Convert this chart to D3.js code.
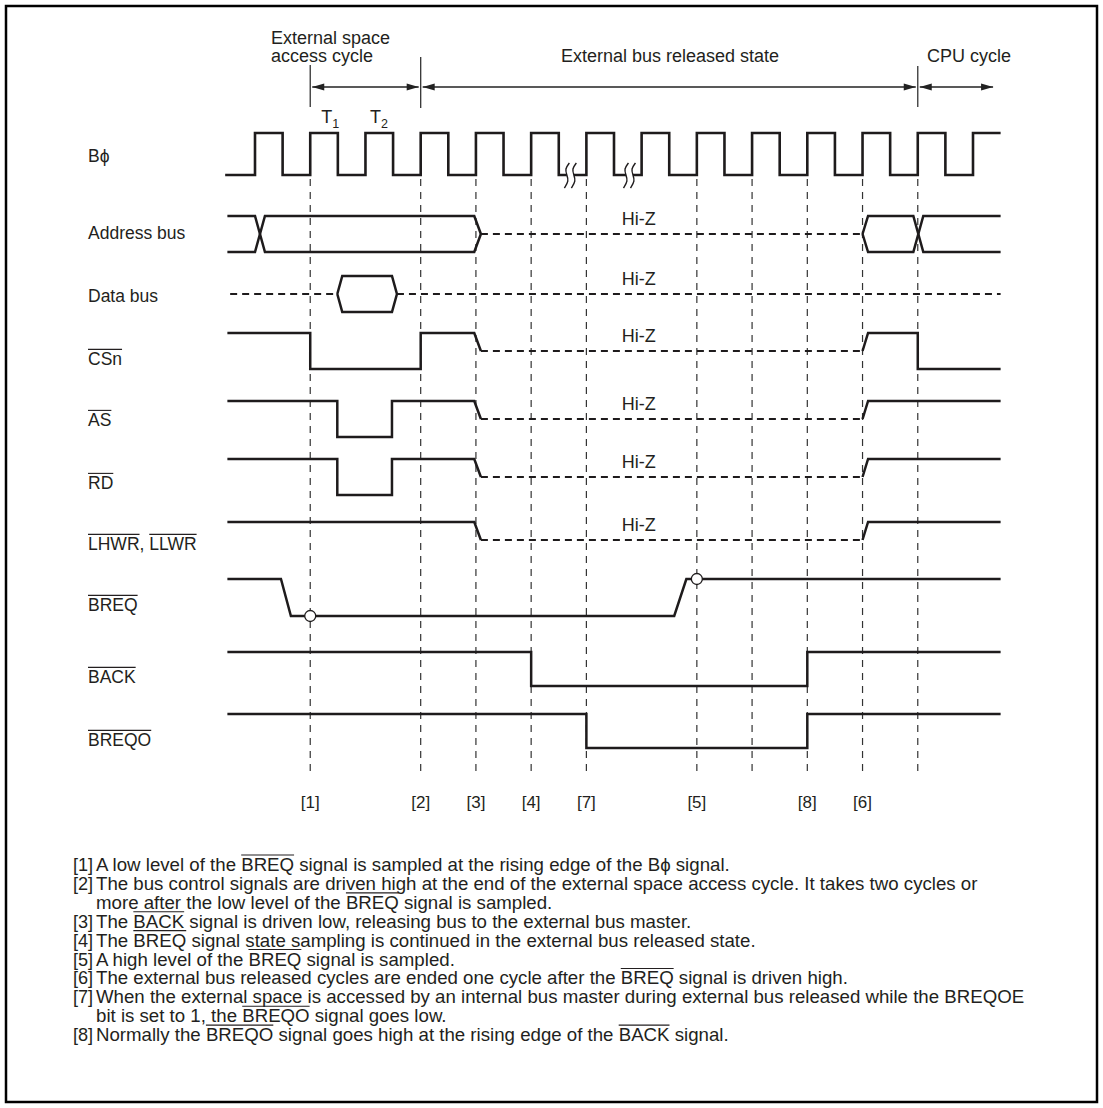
<!DOCTYPE html>
<html><head><meta charset="utf-8">
<script src="https://cdn.jsdelivr.net/npm/d3@7"></script>
<style>
body{margin:0;background:#fff}
svg{display:block}
text{font-family:"Liberation Sans",Arial,Helvetica,sans-serif;fill:#231f20}
</style></head>
<body><svg id="c" width="1103" height="1108"></svg>
<script>
// ================= DATA (time in clock cycles, level 1=high 0=low 0.5=Hi-Z) =================
const clockRises = [0,1,2,3,4,5,6,7,8,9,10,11,12,13];
const clockSpan = [-0.54, 13.5];
const clockBreaks = [5.71, 6.78];

const markerTimes  = [1, 3, 4, 5, 6, 8, 9, 10, 11, 12];
const markerLabels = ["[1]","[2]","[3]","[4]","[7]","[5]","","[8]","[6]",""];

const phaseTimes  = [1, 3, 12, 13.4];
const phaseLabels = [["External space","access cycle"],["External bus released state"],["CPU cycle"]];
const cycleNames  = [["T","1",1.2],["T","2",2.08]];

const signalNames = ["B\u03d5","Address bus","Data bus","~CSn~","~AS~","~RD~","~LHWR~, ~LLWR~","~BREQ~","~BACK~","~BREQO~"];

const addrBus = [
  {dash:false, pts:[[-0.5,1],[0,1],[0.18,0],[3.97,0],[4.09,0.5]]},
  {dash:false, pts:[[-0.5,0],[0,0],[0.18,1],[3.97,1],[4.09,0.5]]},
  {dash:true,  pts:[[4.09,0.5],[11.0,0.5]]},
  {dash:false, pts:[[11.0,0.5],[11.1,1],[11.92,1],[12.1,0],[13.5,0]]},
  {dash:false, pts:[[11.0,0.5],[11.1,0],[11.92,0],[12.1,1],[13.5,1]]}
];
const dataBus = [
  {dash:true,  pts:[[-0.45,0.5],[1.49,0.5]]},
  {dash:false, pts:[[1.49,0.5],[1.58,1],[2.48,1],[2.57,0.5],[2.48,0],[1.58,0],[1.49,0.5]]},
  {dash:true,  pts:[[2.57,0.5],[13.5,0.5]]}
];
const csSig = [
  {dash:false, pts:[[-0.5,1],[1,1],[1,0],[3,0],[3,1],[3.97,1],[4.09,0.5]]},
  {dash:true,  pts:[[4.09,0.5],[11.0,0.5]]},
  {dash:false, pts:[[11.0,0.5],[11.1,1],[12,1],[12,0],[13.5,0]]}
];
const asSig = [
  {dash:false, pts:[[-0.5,1],[1.49,1],[1.49,0],[2.48,0],[2.48,1],[3.97,1],[4.09,0.5]]},
  {dash:true,  pts:[[4.09,0.5],[11.0,0.5]]},
  {dash:false, pts:[[11.0,0.5],[11.1,1],[13.5,1]]}
];
const rdSig = [
  {dash:false, pts:[[-0.5,1],[1.49,1],[1.49,0],[2.48,0],[2.48,1],[3.97,1],[4.09,0.5]]},
  {dash:true,  pts:[[4.09,0.5],[11.0,0.5]]},
  {dash:false, pts:[[11.0,0.5],[11.1,1],[13.5,1]]}
];
const wrSig = [
  {dash:false, pts:[[-0.5,1],[3.97,1],[4.09,0.5]]},
  {dash:true,  pts:[[4.09,0.5],[11.0,0.5]]},
  {dash:false, pts:[[11.0,0.5],[11.1,1],[13.5,1]]}
];
const breqSig  = [{dash:false, pts:[[-0.5,1],[0.47,1],[0.65,0],[7.59,0],[7.81,1],[13.5,1]]}];
const breqSamples = [[1,0],[8,1]];
const backSig  = [{dash:false, pts:[[-0.5,1],[5,1],[5,0],[10,0],[10,1],[13.5,1]]}];
const breqoSig = [{dash:false, pts:[[-0.5,1],[6,1],[6,0],[10,0],[10,1],[13.5,1]]}];
const hiZTime = 6.95;
const hiZLanes = ["addr","data","cs","as","rd","wr"];

const noteMarks = ["[1]","[2]","","[3]","[4]","[5]","[6]","[7]","","[8]"];
const noteTexts = [
  "A low level of the ~BREQ~ signal is sampled at the rising edge of the B\u03d5 signal.",
  "The bus control signals are driven high at the end of the external space access cycle. It takes two cycles or",
  "more after the low level of the ~BREQ~ signal is sampled.",
  "The ~BACK~ signal is driven low, releasing bus to the external bus master.",
  "The ~BREQ~ signal state sampling is continued in the external bus released state.",
  "A high level of the ~BREQ~ signal is sampled.",
  "The external bus released cycles are ended one cycle after the ~BREQ~ signal is driven high.",
  "When the external space is accessed by an internal bus master during external bus released while the BREQOE",
  "bit is set to 1, the ~BREQO~ signal goes low.",
  "Normally the ~BREQO~ signal goes high at the rising edge of the ~BACK~ signal."
];

// ================= LAYOUT =================
const svg = d3.select("#c");
const x = d3.scaleLinear().domain([0,13]).range([255,973]);
const lanes = {clk:[133,175],addr:[216,252],data:[276,312],cs:[333,369],as:[401,437],
  rd:[459,495],wr:[522,558],breq:[579,616],back:[652,686],breqo:[714,748]};
const laneY = k => d3.scaleLinear().domain([0,1]).range([lanes[k][1],lanes[k][0]]);
const labelY = [155,232,295,358,419,482,543,604,676,739];
const INK = "#1e1b1c";

svg.append("rect").attr("x",6).attr("y",6).attr("width",1091).attr("height",1096)
  .attr("fill","none").attr("stroke","#000").attr("stroke-width",2.5);

// vertical dashed sample lines
svg.append("g").selectAll("line").data(markerTimes).join("line")
  .attr("x1",d=>x(d)).attr("x2",d=>x(d)).attr("y1",179).attr("y2",777)
  .attr("stroke","#333").attr("stroke-width",1.2).attr("stroke-dasharray","7,6");

// marker labels
svg.append("g").selectAll("text").data(markerTimes).join("text")
  .attr("x",d=>x(d)).attr("y",808).attr("text-anchor","middle").attr("font-size",17)
  .text((d,i)=>markerLabels[i]);

// clock
const clkPts = [[clockSpan[0],0]];
clockRises.forEach(r=>{
  clkPts.push([r,0],[r,1]);
  const f = Math.min(r+0.5, clockSpan[1]);
  clkPts.push([f,1]);
  if (r+0.5 < clockSpan[1]) clkPts.push([f,0]);
});
const yc = laneY("clk");
svg.append("path").attr("d",d3.line().x(d=>x(d[0])).y(d=>yc(d[1]))(clkPts))
  .attr("fill","none").attr("stroke",INK).attr("stroke-width",2.6).attr("stroke-linejoin","miter");
// breaks
const sq = d3.line().curve(d3.curveBasis);
clockBreaks.forEach(b=>{
  const cx = x(b), cy = yc(0);
  svg.append("rect").attr("x",cx-3.5).attr("y",cy-3).attr("width",7).attr("height",6).attr("fill","#fff");
  [-3.5,3.5].forEach(o=>{
    const p = [[cx+o+2.5,cy-12],[cx+o-2,cy-6],[cx+o,cy],[cx+o+2,cy+6],[cx+o-2.5,cy+13]];
    svg.append("path").attr("d",sq(p)).attr("fill","none").attr("stroke",INK).attr("stroke-width",1.4);
  });
});

// signals
function drawSig(segs, lane){
  const ys = laneY(lane);
  const ln = d3.line().x(d=>x(d[0])).y(d=>ys(d[1]));
  segs.forEach(s=>{
    svg.append("path").attr("d",ln(s.pts)).attr("fill","none").attr("stroke",INK)
      .attr("stroke-width", s.dash?2.2:2.5).attr("stroke-dasharray", s.dash?"7,5":null)
      .attr("stroke-linejoin","miter");
  });
}
drawSig(addrBus,"addr"); drawSig(dataBus,"data"); drawSig(csSig,"cs"); drawSig(asSig,"as");
drawSig(rdSig,"rd"); drawSig(wrSig,"wr"); drawSig(breqSig,"breq"); drawSig(backSig,"back"); drawSig(breqoSig,"breqo");
const yb = laneY("breq");
svg.append("g").selectAll("circle").data(breqSamples).join("circle")
  .attr("cx",d=>x(d[0])).attr("cy",d=>yb(d[1])).attr("r",5.5)
  .attr("fill","#fff").attr("stroke",INK).attr("stroke-width",1.3);

// Hi-Z labels
svg.append("g").selectAll("text").data(hiZLanes).join("text")
  .attr("x",x(hiZTime)).attr("y",d=>laneY(d)(0.5)-9).attr("text-anchor","middle").attr("font-size",18)
  .text("Hi-Z");

// text with overline segments
function richText(g, str, xx, yy, fs){
  const t = g.append("text").attr("x",xx).attr("y",yy).attr("font-size",fs);
  const parts = str.split("~");
  const spans = [];
  let idx = 0;
  parts.forEach((p,i)=>{
    if(!p.length) return;
    t.append("tspan").text(p);
    if(i%2===1) spans.push([idx, idx+p.length-1]);
    idx += p.length;
  });
  return {t, spans};
}
function addOverlines(g, obj, fs, yy){
  const n = obj.t.node();
  obj.spans.forEach(([a,b])=>{
    const x1 = n.getStartPositionOfChar(a).x;
    const e = n.getEndPositionOfChar(b).x;
    const oy = yy - fs*0.72 - 2.5;
    g.append("line").attr("x1",x1).attr("x2",e).attr("y1",oy).attr("y2",oy)
      .attr("stroke","#231f20").attr("stroke-width",1.1);
  });
}

// signal labels
const lg = svg.append("g");
signalNames.forEach((s,i)=>{
  const yy = labelY[i]+6.5;
  const o = richText(lg, s, 88, yy, 17.5);
  addOverlines(lg, o, 17.5, yy);
});

// phase annotations
const ag = svg.append("g");
[[x(phaseTimes[0]),65,107],[x(phaseTimes[1]),57,108],[x(phaseTimes[2]),66,107]].forEach(d=>{
  ag.append("line").attr("x1",d[0]).attr("x2",d[0]).attr("y1",d[1]).attr("y2",d[2])
    .attr("stroke","#333").attr("stroke-width",1.3);
});
function arrow(t0,t1,yy){
  const a = x(t0)+2, b = x(t1)-2;
  ag.append("line").attr("x1",a).attr("x2",b).attr("y1",yy).attr("y2",yy).attr("stroke","#222").attr("stroke-width",1.3);
  ag.append("path").attr("d",`M${a},${yy}L${a+12},${yy-3.5}L${a+12},${yy+3.5}Z`).attr("fill","#222");
  ag.append("path").attr("d",`M${b},${yy}L${b-12},${yy-3.5}L${b-12},${yy+3.5}Z`).attr("fill","#222");
}
arrow(phaseTimes[0],phaseTimes[1],87);
arrow(phaseTimes[1],phaseTimes[2],87);
arrow(phaseTimes[2],phaseTimes[3],87);
ag.append("text").attr("x",271).attr("y",44).attr("font-size",18).text(phaseLabels[0][0]);
ag.append("text").attr("x",271).attr("y",62).attr("font-size",18).text(phaseLabels[0][1]);
ag.append("text").attr("x",670).attr("y",62).attr("font-size",18).attr("text-anchor","middle").text(phaseLabels[1][0]);
ag.append("text").attr("x",927).attr("y",62).attr("font-size",18).text(phaseLabels[2][0]);
cycleNames.forEach(c=>{
  const t = ag.append("text").attr("x",x(c[2])).attr("y",123).attr("font-size",18);
  t.append("tspan").text(c[0]);
  t.append("tspan").attr("font-size",12.5).attr("dy",5).text(c[1]);
});

// notes
const ng = svg.append("g");
const probe = ng.append("text").attr("font-size",16).text(noteTexts[1].replace(/~/g,""));
const natW = probe.node().getComputedTextLength(); probe.remove();
const nfs = 16 * (978-96) / natW;
noteTexts.forEach((s,i)=>{
  const yy = 871 + i*18.9;
  if (noteMarks[i]) ng.append("text").attr("x",73).attr("y",yy).attr("font-size",nfs*0.97).text(noteMarks[i]);
  const o = richText(ng, s, 96, yy, nfs);
  addOverlines(ng, o, nfs, yy);
});
</script></body></html>
